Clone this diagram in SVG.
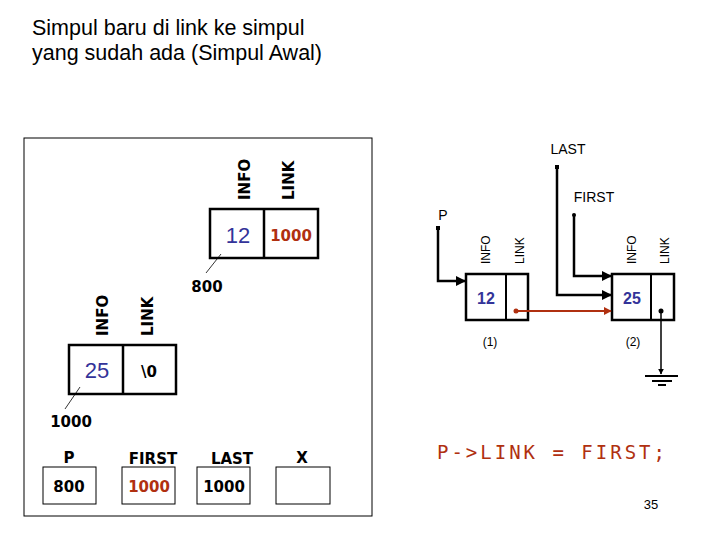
<svg xmlns="http://www.w3.org/2000/svg" width="720" height="540" viewBox="0 0 720 540">
<style>
.b{fill:#fff;stroke:#000;stroke-width:2.5}
.t{font-family:"Liberation Sans",Arial,sans-serif}
.v{font-family:"DejaVu Sans",sans-serif;font-weight:bold;font-size:15px}
.bl{fill:#333399}
.rd{fill:#b03010}
.w{fill:none;stroke:#000;stroke-width:2.5}
</style>
<defs>
<marker id="a" viewBox="0 0 10 10" refX="9" refY="5" markerWidth="4" markerHeight="4" orient="auto"><path d="M0,0L10,5L0,10z" fill="#000"/></marker>
<marker id="ar" viewBox="0 0 10 10" refX="9" refY="5" markerWidth="4" markerHeight="4" orient="auto"><path d="M0,0L10,5L0,10z" fill="#b03010"/></marker>
</defs>
<text class="t" x="32" y="35" font-size="21.5">Simpul baru di link ke simpul</text>
<text class="t" x="32" y="60" font-size="21.5">yang sudah ada (Simpul Awal)</text>
<rect x="24" y="138" width="348" height="378" fill="none" stroke="#000" stroke-width="1"/>
<g id="node12">
<rect class="b" x="210" y="209" width="108" height="49"/><line x1="264" y1="209" x2="264" y2="258" stroke="#000" stroke-width="2.5"/>
<text class="t bl" x="238" y="243" font-size="22" text-anchor="middle">12</text>
<text class="v rd" x="291" y="241" text-anchor="middle">1000</text>
<text class="v" transform="translate(250,200) rotate(-90)">INFO</text>
<text class="v" transform="translate(294,200) rotate(-90)">LINK</text>
<line x1="221" y1="254" x2="206" y2="273" stroke="#000" stroke-width="0.8"/>
<text class="v" x="207" y="292" text-anchor="middle">800</text>
</g>
<g id="node25">
<rect class="b" x="69" y="345" width="107" height="49"/><line x1="123" y1="345" x2="123" y2="394" stroke="#000" stroke-width="2.5"/>
<text class="t bl" x="97" y="378" font-size="22" text-anchor="middle">25</text>
<text class="v" x="149" y="377" text-anchor="middle">\0</text>
<text class="v" transform="translate(108,336) rotate(-90)">INFO</text>
<text class="v" transform="translate(153,336) rotate(-90)">LINK</text>
<line x1="80" y1="387" x2="65" y2="409" stroke="#000" stroke-width="0.8"/>
<text class="v" x="71" y="427" text-anchor="middle">1000</text>
</g>
<g id="vars">
<rect x="43" y="467" width="53" height="37" fill="none" stroke="#000"/>
<text class="v" x="69" y="463" text-anchor="middle" font-size="17">P</text>
<text class="v" x="69" y="492" text-anchor="middle">800</text>
<rect x="122" y="467" width="53" height="37" fill="none" stroke="#000"/>
<text class="v" x="153" y="464" text-anchor="middle" font-size="17">FIRST</text>
<text class="v rd" x="149" y="492" text-anchor="middle">1000</text>
<rect x="197" y="467" width="53" height="37" fill="none" stroke="#000"/>
<text class="v" x="232" y="464" text-anchor="middle" font-size="17">LAST</text>
<text class="v" x="224" y="492" text-anchor="middle">1000</text>
<rect x="276" y="467" width="54" height="37" fill="none" stroke="#000"/>
<text class="v" x="302" y="463" text-anchor="middle" font-size="17">X</text>
</g>
<g id="n1">
<rect class="b" x="466" y="274" width="62" height="46" stroke-width="2"/><line x1="506" y1="274" x2="506" y2="320" stroke="#000" stroke-width="2"/>
<text class="t bl" x="486" y="304" font-size="16" font-weight="bold" text-anchor="middle">12</text>
<text class="t" transform="translate(490,264) rotate(-90)" font-size="12">INFO</text>
<text class="t" transform="translate(524,264) rotate(-90)" font-size="12">LINK</text>
<text class="t" x="490" y="346" font-size="12" text-anchor="middle">(1)</text>
</g>
<g id="n2">
<rect class="b" x="612" y="274" width="62" height="46" stroke-width="2"/><line x1="651" y1="274" x2="651" y2="320" stroke="#000" stroke-width="2"/>
<text class="t bl" x="632" y="304" font-size="16" font-weight="bold" text-anchor="middle">25</text>
<text class="t" transform="translate(636,264) rotate(-90)" font-size="12">INFO</text>
<text class="t" transform="translate(669,264) rotate(-90)" font-size="12">LINK</text>
<text class="t" x="633" y="346" font-size="12" text-anchor="middle">(2)</text>
</g>
<g id="ptrs">
<text class="t" x="568" y="154" font-size="14" text-anchor="middle">LAST</text>
<text class="t" x="594" y="202" font-size="14" text-anchor="middle">FIRST</text>
<text class="t" x="443" y="220" font-size="14" text-anchor="middle">P</text>
</g>
<g id="connectors">
<rect x="555" y="165" width="4" height="4"/><polyline class="w" points="557,167 557,295 611,295" marker-end="url(#a)" stroke-width="1.5"/>
<circle cx="574" cy="215" r="2"/><polyline class="w" points="574,215 574,276 611,276" marker-end="url(#a)" stroke-width="1.5"/>
<rect x="436" y="226" width="4" height="4"/><polyline class="w" points="438,228 438,281 465,281" marker-end="url(#a)" stroke-width="1.5"/>
<circle cx="516" cy="311" r="2.5" fill="#b03010"/><line x1="516" y1="311" x2="611" y2="311" stroke="#b03010" stroke-width="2" marker-end="url(#ar)"/>
<circle cx="661" cy="311" r="2.5"/><line x1="661" y1="311" x2="661" y2="374" stroke="#000" stroke-width="1.5" marker-end="url(#a)"/>
<line x1="645" y1="376" x2="678" y2="376" stroke="#000" stroke-width="2"/>
<line x1="652" y1="381" x2="672" y2="381" stroke="#000" stroke-width="2"/>
<line x1="658" y1="385" x2="666" y2="385" stroke="#000" stroke-width="2"/>
</g>
<text x="437" y="459" font-family="DejaVu Sans Mono, monospace" font-size="19" fill="#b03010" textLength="228" lengthAdjust="spacing">P-&gt;LINK = FIRST;</text>
<text class="t" x="651" y="509" font-size="13" text-anchor="middle">35</text>
</svg>
